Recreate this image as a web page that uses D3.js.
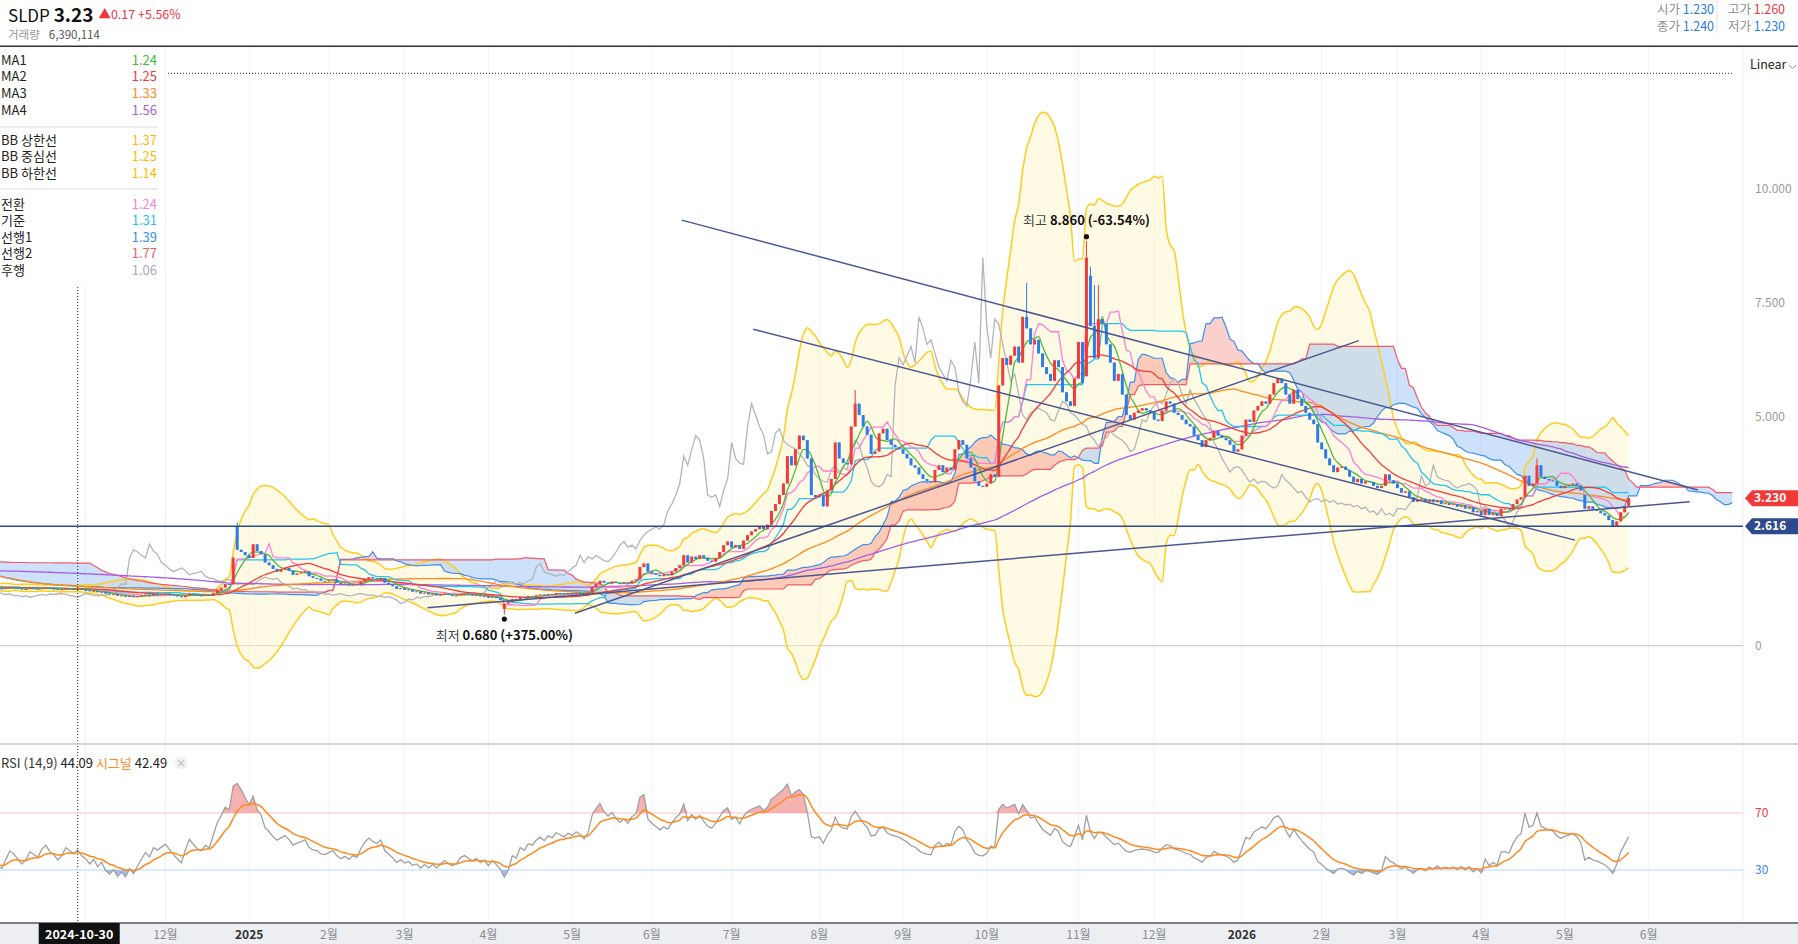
<!DOCTYPE html>
<html>
<head>
<meta charset="utf-8">
<script src="https://cdn.jsdelivr.net/npm/d3@7"></script>
<style>
  body { margin: 0; background: #fff; overflow: hidden; }
  svg { display: block; font-family: "Noto Sans CJK KR", "Noto Sans", sans-serif; }
</style>
</head>
<body>
<svg id="chart" width="1798" height="944"></svg>
<script>
// ---- 데이터 ----
const ticker = "SLDP";
const lastPrice = "3.23";
const priceChange = "▲0.17 +5.56%";
const volumeText = "6,390,114";
const hoverDate = "2024-10-30";
const hoverIndex = 21;
const hoverOHLC = [["시가", "1.230", "#2a7de1"], ["고가", "1.260", "#f0353f"], ["종가", "1.240", "#2a7de1"], ["저가", "1.230", "#2a7de1"]];

// 화면 왼쪽 이전 구간 (지표 계산용)
const warmupClose = [
  1.50, 1.52, 1.55, 1.53, 1.50, 1.48, 1.52, 1.56, 1.60, 1.58,
  1.60, 1.63, 1.61, 1.58, 1.62, 1.66, 1.64, 1.68, 1.70, 1.67,
  1.65, 1.68, 1.70, 1.67, 1.64, 1.62, 1.66, 1.69, 1.72, 1.68,
  1.65, 1.62, 1.60, 1.64, 1.66, 1.63, 1.61, 1.58, 1.62, 1.65,
  1.68, 1.72, 1.76, 1.74, 1.78, 1.82, 1.80, 1.85, 1.88, 1.92,
  1.95, 2.00, 2.04, 2.02, 2.08, 2.12, 2.18, 2.15, 2.20, 2.25,
  2.22, 2.27, 2.30, 2.26, 2.20, 2.32, 2.35, 2.25, 2.15, 2.05,
  1.98, 1.92, 1.88, 1.84, 1.78, 1.74, 1.70, 1.66, 1.62, 1.60,
  1.56, 1.53, 1.50, 1.48, 1.46, 1.45, 1.43, 1.42, 1.40, 1.38,
  1.37, 1.35, 1.34, 1.33, 1.32, 1.34, 1.33, 1.31, 1.30, 1.29,
  1.30, 1.31, 1.29, 1.28, 1.30, 1.32, 1.30, 1.29, 1.28, 1.27,
  1.28, 1.30, 1.29, 1.27, 1.26, 1.28, 1.27, 1.26, 1.28, 1.27
];

// 종가: 2024-10 ~ 2024-12
const close2024 = [
  1.27, 1.25, 1.24, 1.26, 1.28, 1.27, 1.25, 1.23, 1.24, 1.26, 1.25, 1.24, 1.26, 1.27, 1.25, 1.24, 1.22, 1.23, 1.25, 1.24, 1.23, 1.24,
  1.22, 1.21, 1.19, 1.20, 1.17, 1.18, 1.14, 1.12, 1.13, 1.09, 1.10, 1.07, 1.09, 1.06, 1.08, 1.10, 1.12, 1.10, 1.13, 1.12, 1.13,
  1.14, 1.12, 1.10, 1.08, 1.06, 1.10, 1.14, 1.12, 1.10, 1.09, 1.11, 1.10, 1.15, 1.22, 1.27, 1.35, 1.34,
  1.92, 2.10, 2.05, 1.98
];
// 2025-01 ~ 2025-06
const close2025a = [
  1.92, 2.22, 2.07, 2.00, 1.82, 1.76, 1.68, 1.62, 1.66, 1.70, 1.64, 1.55, 1.58, 1.60, 1.63, 1.52, 1.48, 1.47, 1.42, 1.41, 1.43, 1.45,
  1.38, 1.34, 1.36, 1.32, 1.35, 1.33, 1.40, 1.46, 1.50, 1.47, 1.45, 1.48, 1.38, 1.34, 1.30, 1.24, 1.26, 1.22, 1.23, 1.18, 1.19,
  1.14, 1.16, 1.12, 1.14, 1.10, 1.12, 1.14, 1.11, 1.09, 1.10, 1.13, 1.14, 1.12, 1.10, 1.11, 1.08, 1.09, 1.05, 1.07, 1.04, 1.00, 0.92,
  0.95, 1.02, 1.00, 1.06, 1.04, 1.08, 1.07, 1.10, 1.12, 1.10, 1.13, 1.12, 1.15, 1.14, 1.13, 1.15, 1.14, 1.16, 1.15, 1.13, 1.16,
  1.28, 1.35, 1.42, 1.38, 1.36, 1.40, 1.37, 1.35, 1.38, 1.36, 1.42, 1.45,
  1.72, 1.80, 1.62, 1.58, 1.55, 1.52, 1.56, 1.54, 1.62, 1.70, 1.76, 1.98, 1.82, 1.95, 1.90, 1.98, 1.92, 1.86, 1.84, 1.92, 2.05, 2.20, 2.28, 2.15
];
// 2025-07 ~ 2025-12
const close2025b = [
  2.20, 2.12, 2.30, 2.42, 2.50, 2.55, 2.60, 2.55, 2.65, 2.95, 3.10, 3.30,
  3.55, 4.15, 3.95, 4.30, 4.60, 4.50, 4.10, 3.30, 3.25, 3.30, 3.05, 3.40, 3.65, 4.45, 4.10, 4.00, 3.97, 4.80, 5.30, 5.05, 4.80, 4.62, 4.20, 4.25, 4.65, 4.75, 4.50, 4.40,
  4.35, 4.30, 4.20, 4.10, 3.95, 3.90, 3.75, 3.65, 3.60, 3.58, 3.85, 3.95, 3.80, 3.90, 3.85, 4.30, 4.50, 4.40, 4.10, 3.90, 3.60, 3.50, 3.48, 3.55, 3.75, 3.70,
  5.70, 6.30, 6.15, 6.35, 6.55, 6.20, 7.20, 6.95, 6.60, 6.70, 6.40, 6.10, 5.95, 5.80, 6.25, 6.10, 5.55, 5.35, 5.25, 5.85, 6.65, 5.75,
  8.50, 7.00, 6.30, 7.15, 7.05, 6.60, 6.20, 5.80, 5.95, 5.50, 5.05, 4.95, 5.10, 5.15, 5.20, 5.15, 5.10, 4.95, 4.92, 5.15, 5.35, 5.30,
  5.10, 5.05, 4.95, 4.85, 4.80, 4.60, 4.50, 4.35, 4.50, 4.55, 4.70, 4.60, 4.55, 4.50, 4.40, 4.25, 4.30
];
// 2026-01 ~ 2026-05
const close2026 = [
  4.60, 4.95, 4.90, 5.15, 5.25, 5.35, 5.30, 5.50, 5.75, 5.85, 5.75, 5.50, 5.30, 5.60, 5.40, 5.25, 5.10, 4.95, 4.85, 4.45,
  4.30, 4.10, 3.95, 3.80, 3.90, 3.92, 3.85,
  3.70, 3.58, 3.65, 3.55, 3.60, 3.58, 3.50, 3.45, 3.50, 3.75, 3.62, 3.55, 3.45, 3.35, 3.38, 3.25, 3.15, 3.20, 3.22, 3.15, 3.20,
  3.14, 3.18, 3.10, 3.12, 3.08, 3.10, 3.04, 3.07, 3.00, 3.03, 2.92, 2.95, 2.86, 3.00, 2.86, 2.90, 2.84, 3.00, 3.00, 2.98, 3.10, 3.20,
  3.25, 3.72, 3.50, 3.55, 3.95, 3.70, 3.65, 3.62, 3.60, 3.50, 3.45, 3.50, 3.52, 3.55, 3.50, 3.40, 3.00, 3.05, 2.98, 2.95, 2.90, 2.85,
  2.75, 2.60, 2.72, 2.92, 3.06, 3.23
];

// 눈에 띄는 시가 / 꼬리 (표시 구간 인덱스)
const openOverride = { 21: 1.23, 61: 2.62, 128: 0.80, 252: 3.70, 274: 5.90, 275: 8.10, 399: 3.30 };
const highOverride = { 21: 1.26, 60: 1.95, 61: 2.70, 216: 5.60, 259: 7.95, 274: 8.86, 275: 8.30, 276: 7.90, 277: 7.90, 387: 4.10 };
const lowOverride = { 21: 1.23, 128: 0.68 };

// 휴장일 + 데이터 없는 날
const closedDays = ["2024-11-28", "2024-12-25", "2025-01-01", "2025-01-09", "2025-01-20", "2025-02-17", "2025-04-18",
  "2025-05-26", "2025-05-30", "2025-06-19", "2025-07-04", "2025-09-01", "2025-11-27", "2025-12-25", "2026-01-01",
  "2026-01-19", "2026-02-16", "2026-03-27", "2026-04-03"];

// 추세선 (거래일 인덱스, 가격)
const trendLines = [
  [172.5, 9.32, 427.4, 3.41],
  [190.4, 6.93, 396.5, 2.31],
  [145.7, 0.71, 342.3, 6.68],
  [108.7, 0.83, 425.3, 3.15]
];
const levelLine = 2.616;

const priceTicks = [0, 2.5, 5, 7.5, 10];
const rsiLevels = [70, 30];

const maLegend = [["MA1", "1.24", "#4cba3c"], ["MA2", "1.25", "#f23c3c"], ["MA3", "1.33", "#ff8a1e"], ["MA4", "1.56", "#a45ee5"]];
const bbLegend = [["BB 상한선", "1.37"], ["BB 중심선", "1.25"], ["BB 하한선", "1.14"]];
const ichiLegend = [["전환", "1.24", "#ff7fd8"], ["기준", "1.31", "#22c6ee"], ["선행1", "1.39", "#3d8ff0"], ["선행2", "1.77", "#f25a6b"], ["후행", "1.06", "#a9abb3"]];
const rsiLegend = { rsi: "44.09", signal: "42.49" };

// ---- 설정 ----
const W = 1798, H = 944;
const plotRight = 1743;
const priceTop = 47, priceBottom = 744, rsiBottom = 923;
const SHIFT = 26;
const BB_K = 4.6; // 밴드 폭 (참조 차트에 맞춤)
const red = "#f23b3b", blue = "#2b7de9";

const closes = close2024.concat(close2025a, close2025b, close2026);
const N = closes.length;
const W0 = warmupClose.length;
const gClose = warmupClose.concat(closes);
const gOpen = gClose.map((c, g) => {
  const i = g - W0;
  if (openOverride[i] !== undefined) return openOverride[i];
  return g === 0 ? c : gClose[g - 1];
});
const gHigh = gClose.map((c, g) => {
  const i = g - W0;
  const h = Math.max(c, gOpen[g]);
  return highOverride[i] !== undefined ? Math.max(h, highOverride[i]) : h;
});
const gLow = gClose.map((c, g) => {
  const i = g - W0;
  const l = Math.min(c, gOpen[g]);
  return lowOverride[i] !== undefined ? Math.min(l, lowOverride[i]) : l;
});

// 거래일 생성
const closedSet = new Set(closedDays);
const dates = [];
{
  const d = new Date(Date.UTC(2024, 9, 1));
  while (dates.length < N + SHIFT) {
    const wd = d.getUTCDay();
    if (wd !== 0 && wd !== 6 && !closedSet.has(d.toISOString().slice(0, 10))) dates.push(new Date(d));
    d.setUTCDate(d.getUTCDate() + 1);
  }
}

// ---- 지표 ----
function sma(g, n) {
  if (g - n + 1 < 0) return null;
  let s = 0;
  for (let k = g - n + 1; k <= g; k++) s += gClose[k];
  return s / n;
}
function midHL(g, n) {
  if (g - n + 1 < 0) return null;
  let hh = -Infinity, ll = Infinity;
  for (let k = g - n + 1; k <= g; k++) { hh = Math.max(hh, gHigh[k]); ll = Math.min(ll, gLow[k]); }
  return (hh + ll) / 2;
}

const vis = d3.range(N);
const maSeries = [5, 20, 60, 120].map(n => vis.map(i => ({ i, v: sma(i + W0, n) })));
const bb = vis.map(i => {
  const g = i + W0, m = sma(g, 20);
  let s = 0;
  for (let k = g - 19; k <= g; k++) s += (gClose[k] - m) ** 2;
  const sd = Math.sqrt(s / 20);
  return { i, up: m + BB_K * sd, lo: m - BB_K * sd };
});
const tenkan = vis.map(i => ({ i, v: midHL(i + W0, 9) }));
const kijun = vis.map(i => ({ i, v: midHL(i + W0, 26) }));
const cloud = d3.range(N + SHIFT).map(t => {
  const g = t - SHIFT + W0;
  return { i: t, a: (midHL(g, 9) + midHL(g, 26)) / 2, b: midHL(g, 52) };
});
const chikou = d3.range(N - SHIFT).map(t => ({ i: t, v: closes[t + SHIFT] }));

// RSI (14) + 시그널 (9)
const rsiG = new Array(gClose.length).fill(null);
{
  let ag = 0, al = 0;
  for (let g = 1; g < gClose.length; g++) {
    const ch = gClose[g] - gClose[g - 1];
    const gain = Math.max(ch, 0), loss = Math.max(-ch, 0);
    if (g <= 14) {
      ag += gain / 14; al += loss / 14;
      if (g === 14) rsiG[g] = al === 0 ? 100 : 100 - 100 / (1 + ag / al);
    } else {
      ag = (ag * 13 + gain) / 14; al = (al * 13 + loss) / 14;
      rsiG[g] = al === 0 ? 100 : 100 - 100 / (1 + ag / al);
    }
  }
}
const sigG = new Array(gClose.length).fill(null);
{
  let e = null;
  for (let g = 14; g < gClose.length; g++) {
    e = e === null ? rsiG[g] : e + (2 / 10) * (rsiG[g] - e);
    sigG[g] = e;
  }
}
const rsi = vis.map(i => ({ i, v: rsiG[i + W0] }));
const signal = vis.map(i => ({ i, v: sigG[i + W0] }));

// ---- 스케일 ----
const x = d3.scaleLinear().domain([1.505, 1.505 + plotRight / 3.987]).range([0, plotRight]);
const yP = d3.scaleLinear().domain([0, 10]).range([645.6, 189.1]);
const yR = d3.scaleLinear().domain([0, 100]).range([912.7, 770.3]);

const svg = d3.select("#chart");
const defs = svg.append("defs");
defs.append("clipPath").attr("id", "clipPrice").append("rect")
  .attr("x", 0).attr("y", priceTop).attr("width", plotRight).attr("height", priceBottom - priceTop);
defs.append("clipPath").attr("id", "clipRsi").append("rect")
  .attr("x", 0).attr("y", priceBottom).attr("width", plotRight).attr("height", rsiBottom - priceBottom);

// 월 눈금
const monthTicks = [];
for (let i = 1; i < dates.length; i++) {
  if (dates[i].getUTCMonth() !== dates[i - 1].getUTCMonth() && x(i) < 1700) monthTicks.push(i);
}

svg.append("g").selectAll("line").data(monthTicks).enter().append("line")
  .attr("x1", d => x(d)).attr("x2", d => x(d))
  .attr("y1", priceTop).attr("y2", rsiBottom)
  .attr("stroke", "#f1f2f4").attr("stroke-width", 1);

svg.append("line").attr("x1", plotRight).attr("x2", plotRight).attr("y1", priceTop).attr("y2", rsiBottom)
  .attr("stroke", "#eceef0");

svg.append("line").attr("x1", 0).attr("x2", plotRight).attr("y1", yP(0)).attr("y2", yP(0))
  .attr("stroke", "#cfcfcf").attr("stroke-width", 1.2);

// ---- 가격 패널 ----
const price = svg.append("g").attr("clip-path", "url(#clipPrice)");

price.append("path").datum(bb)
  .attr("d", d3.area().x(d => x(d.i)).y0(d => yP(d.lo)).y1(d => yP(d.up)).curve(d3.curveMonotoneX))
  .attr("fill", "#fff3c4").attr("fill-opacity", 0.45);

// 구름대
price.append("path").datum(cloud)
  .attr("d", d3.area().x(d => x(d.i)).y0(d => yP(d.b)).y1(d => yP(Math.max(d.a, d.b))))
  .attr("fill", "#f26b5e").attr("fill-opacity", 0.32);
price.append("path").datum(cloud)
  .attr("d", d3.area().x(d => x(d.i)).y0(d => yP(d.a)).y1(d => yP(Math.max(d.a, d.b))))
  .attr("fill", "#5d9df0").attr("fill-opacity", 0.3);

const line = d3.line().defined(d => d.v !== null).x(d => x(d.i)).y(d => yP(d.v));

price.append("path").datum(bb.map(d => ({ i: d.i, v: d.up })))
  .attr("d", line.curve(d3.curveMonotoneX)).attr("fill", "none").attr("stroke", "#ffcc1f").attr("stroke-width", 1.5);
price.append("path").datum(bb.map(d => ({ i: d.i, v: d.lo })))
  .attr("d", line).attr("fill", "none").attr("stroke", "#ffcc1f").attr("stroke-width", 1.5);
line.curve(d3.curveLinear);

price.append("path").datum(cloud.map(d => ({ i: d.i, v: d.a })))
  .attr("d", line).attr("fill", "none").attr("stroke", "#3d8ff0").attr("stroke-width", 1.2);
price.append("path").datum(cloud.map(d => ({ i: d.i, v: d.b })))
  .attr("d", line).attr("fill", "none").attr("stroke", "#f25a6b").attr("stroke-width", 1.2);

price.append("path").datum(chikou)
  .attr("d", line).attr("fill", "none").attr("stroke", "#b3b5bc").attr("stroke-width", 1.3);

const maColors = ["#4cba3c", "#f23c3c", "#ff8a1e", "#a45ee5"];
[3, 2].forEach(k => {
  price.append("path").datum(maSeries[k]).attr("d", line.curve(d3.curveMonotoneX))
    .attr("fill", "none").attr("stroke", maColors[k]).attr("stroke-width", 1.3);
});
line.curve(d3.curveLinear);
price.append("path").datum(kijun).attr("d", line).attr("fill", "none").attr("stroke", "#22c6ee").attr("stroke-width", 1.3);
price.append("path").datum(tenkan).attr("d", line).attr("fill", "none").attr("stroke", "#ff7fd8").attr("stroke-width", 1.3);
[1, 0].forEach(k => {
  price.append("path").datum(maSeries[k]).attr("d", line.curve(d3.curveMonotoneX))
    .attr("fill", "none").attr("stroke", maColors[k]).attr("stroke-width", 1.3);
});
line.curve(d3.curveLinear);

// 캔들
const candles = vis.map(i => {
  const g = i + W0;
  return { i, o: gOpen[g], h: gHigh[g], l: gLow[g], c: gClose[g] };
});
const cg = price.append("g").selectAll("g").data(candles).enter().append("g");
cg.append("line")
  .attr("x1", d => x(d.i)).attr("x2", d => x(d.i))
  .attr("y1", d => yP(d.h)).attr("y2", d => yP(d.l))
  .attr("stroke", d => d.c >= d.o ? red : blue).attr("stroke-width", 1);
cg.append("rect")
  .attr("x", d => x(d.i) - 1.5).attr("width", 3)
  .attr("y", d => yP(Math.max(d.o, d.c)))
  .attr("height", d => Math.max(1, yP(Math.min(d.o, d.c)) - yP(Math.max(d.o, d.c))))
  .attr("fill", d => d.c >= d.o ? red : blue);

// 추세선
price.append("g").selectAll("line").data(trendLines).enter().append("line")
  .attr("x1", d => x(d[0])).attr("y1", d => yP(d[1]))
  .attr("x2", d => x(d[2])).attr("y2", d => yP(d[3]))
  .attr("stroke", "#4b5792").attr("stroke-width", 1.5);
svg.append("line").attr("x1", 0).attr("x2", plotRight).attr("y1", yP(levelLine)).attr("y2", yP(levelLine))
  .attr("stroke", "#2f4a8c").attr("stroke-width", 1.5);

// 최고 / 최저
const lastClose = closes[N - 1];
const hiIdx = d3.maxIndex(candles, d => d.h), loIdx = d3.minIndex(candles, d => d.l);
const pct = v => { const p = (lastClose - v) / v * 100; return (p >= 0 ? "+" : "") + p.toFixed(2) + "%"; };
[[hiIdx, candles[hiIdx].h, "최고", -1], [loIdx, candles[loIdx].l, "최저", 1]].forEach(([i, v, lab, dir]) => {
  const cx = x(i), cy = yP(v) + dir * 4.5;
  svg.append("circle").attr("cx", cx).attr("cy", cy).attr("r", 2.6).attr("fill", "#111");
  const t = svg.append("text").attr("x", cx).attr("y", cy + dir * 16 + 4.5)
    .attr("text-anchor", "middle").attr("font-size", 13);
  t.append("tspan").attr("fill", "#444").text(lab + "  ");
  t.append("tspan").attr("fill", "#111").attr("font-weight", "bold").text(v.toFixed(3) + " (" + pct(v) + ")");
});

// ---- 범례 ----
svg.append("rect").attr("x", 0).attr("y", priceTop + 1).attr("width", 164).attr("height", 238).attr("fill", "#fff");
const legRows = [];
maLegend.forEach((d, k) => legRows.push({ y: 60 + k * 16.7, name: d[0], value: d[1], color: d[2] }));
bbLegend.forEach((d, k) => legRows.push({ y: 140 + k * 16.6, name: d[0], value: d[1], color: "#ffbb00" }));
ichiLegend.forEach((d, k) => legRows.push({ y: 204 + k * 16.5, name: d[0], value: d[1], color: d[2] }));
const lg = svg.append("g").attr("font-size", 13);
lg.selectAll("text.n").data(legRows).enter().append("text")
  .attr("x", 1).attr("y", d => d.y + 4.5).attr("fill", "#222").text(d => d.name);
lg.selectAll("text.v").data(legRows).enter().append("text")
  .attr("x", 157).attr("y", d => d.y + 4.5).attr("text-anchor", "end").attr("fill", d => d.color).text(d => d.value);
[127, 189].forEach(yy => {
  svg.append("line").attr("x1", 0).attr("x2", 158).attr("y1", yy).attr("y2", yy).attr("stroke", "#dddddd").attr("stroke-width", 1.2);
});

// 십자선
svg.append("line").attr("x1", 168).attr("x2", 1733).attr("y1", 73.3).attr("y2", 73.3)
  .attr("stroke", "#222").attr("stroke-dasharray", "1,2");
svg.append("line").attr("x1", x(hoverIndex)).attr("x2", x(hoverIndex)).attr("y1", 287).attr("y2", rsiBottom)
  .attr("stroke", "#222").attr("stroke-dasharray", "1,2");

// ---- 가격 축 (태그에 가려지는 눈금은 생략) ----
const tagValues = [levelLine, lastClose];
svg.append("g").selectAll("text")
  .data(priceTicks.filter(t => tagValues.every(v => Math.abs(yP(t) - yP(v)) > 14))).enter().append("text")
  .attr("x", 1755).attr("y", d => yP(d) + 4).attr("font-size", 12).attr("fill", "#9a9a9a")
  .text(d => d === 0 ? "0" : d.toFixed(3));
function tag(v, color, label) {
  const cy = yP(v);
  svg.append("path").attr("d", `M1745,${cy} L1752,${cy - 8} L${W},${cy - 8} L${W},${cy + 8} L1752,${cy + 8} Z`).attr("fill", color);
  svg.append("text").attr("x", 1754).attr("y", cy + 4.3).attr("font-size", 12).attr("font-weight", "bold")
    .attr("fill", "#fff").text(label);
}
tag(levelLine, "#2f4a8c", levelLine.toFixed(3));
tag(lastClose, "#f03a3a", lastClose.toFixed(3));
svg.append("text").attr("x", 1750).attr("y", 68.5).attr("font-size", 12.5).attr("fill", "#222").text("Linear");
svg.append("path").attr("d", "M1789,65 L1792.5,68.5 L1796,65").attr("fill", "none").attr("stroke", "#999").attr("stroke-width", 1);

// ---- RSI 패널 ----
svg.append("line").attr("x1", 0).attr("x2", W).attr("y1", priceBottom).attr("y2", priceBottom)
  .attr("stroke", "#c4c6ca").attr("stroke-width", 1.5);
svg.append("line").attr("x1", 0).attr("x2", plotRight).attr("y1", yR(70)).attr("y2", yR(70))
  .attr("stroke", "#ffd6d6").attr("stroke-width", 1.5);
svg.append("line").attr("x1", 0).attr("x2", plotRight).attr("y1", yR(30)).attr("y2", yR(30))
  .attr("stroke", "#cfe5ff").attr("stroke-width", 1.5);

const rp = svg.append("g").attr("clip-path", "url(#clipRsi)");
rp.append("path").datum(rsi)
  .attr("d", d3.area().x(d => x(d.i)).y0(yR(70)).y1(d => yR(Math.max(70, d.v))))
  .attr("fill", "#f4a3a3").attr("fill-opacity", 0.85);
rp.append("path").datum(rsi)
  .attr("d", d3.area().x(d => x(d.i)).y0(yR(30)).y1(d => yR(Math.min(30, d.v))))
  .attr("fill", "#8db6ef").attr("fill-opacity", 0.85);
const rline = d3.line().x(d => x(d.i)).y(d => yR(d.v));
rp.append("path").datum(rsi).attr("d", rline).attr("fill", "none").attr("stroke", "#a0a0a0").attr("stroke-width", 1.3);
rp.append("path").datum(signal).attr("d", rline.curve(d3.curveMonotoneX)).attr("fill", "none")
  .attr("stroke", "#ff8a1e").attr("stroke-width", 1.5);

svg.append("g").selectAll("text").data(rsiLevels).enter().append("text")
  .attr("x", 1755).attr("y", d => yR(d) + 4).attr("font-size", 12)
  .attr("fill", d => d === 70 ? "#f0353f" : "#2f86f0").text(d => d);

const rl = svg.append("text").attr("x", 1).attr("y", 767.5).attr("font-size", 13);
rl.append("tspan").attr("fill", "#333").text("RSI (14,9) ");
rl.append("tspan").attr("fill", "#222").text(rsiLegend.rsi + " ");
rl.append("tspan").attr("fill", "#ff8a1e").text("시그널 ");
rl.append("tspan").attr("fill", "#222").text(rsiLegend.signal);
svg.append("circle").attr("cx", 181).attr("cy", 763).attr("r", 6.5).attr("fill", "#f0f0f0");
svg.append("text").attr("x", 181).attr("y", 766.5).attr("text-anchor", "middle").attr("font-size", 10).attr("fill", "#aaa").text("×");

// ---- 시간 축 ----
const tagLeft = x(hoverIndex) - 39, tagRight = x(hoverIndex) + 42;
svg.append("rect").attr("x", 0).attr("y", rsiBottom).attr("width", W).attr("height", H - rsiBottom).attr("fill", "#eceef2");
svg.append("line").attr("x1", 0).attr("x2", W).attr("y1", rsiBottom).attr("y2", rsiBottom)
  .attr("stroke", "#7d7f84").attr("stroke-width", 2);
svg.append("g").selectAll("text")
  .data(monthTicks.filter(i => x(i) > 12 && (x(i) < tagLeft - 12 || x(i) > tagRight + 12))).enter().append("text")
  .attr("x", d => x(d)).attr("y", 938.5).attr("text-anchor", "middle").attr("font-size", 12)
  .attr("font-weight", d => dates[d].getUTCMonth() === 0 ? "bold" : "normal")
  .attr("fill", d => dates[d].getUTCMonth() === 0 ? "#333" : "#8a8c90")
  .text(d => dates[d].getUTCMonth() === 0 ? String(dates[d].getUTCFullYear()) : (dates[d].getUTCMonth() + 1) + "월");
svg.append("rect").attr("x", tagLeft).attr("y", rsiBottom).attr("width", tagRight - tagLeft).attr("height", H - rsiBottom).attr("fill", "#111");
svg.append("text").attr("x", x(hoverIndex) + 1.5).attr("y", 938.5).attr("text-anchor", "middle")
  .attr("font-size", 12.5).attr("font-weight", "bold").attr("fill", "#fff").text(hoverDate);

// ---- 머리글 ----
svg.append("line").attr("x1", 0).attr("x2", W).attr("y1", 46.3).attr("y2", 46.3).attr("stroke", "#333").attr("stroke-width", 1.4);
const head = svg.append("text").attr("x", 8).attr("y", 22);
head.append("tspan").attr("font-size", 17).attr("fill", "#111").text(ticker + " ");
head.append("tspan").attr("font-size", 19).attr("font-weight", "bold").attr("fill", "#111").text(lastPrice);
head.append("tspan").attr("font-size", 12.5).attr("fill", "#f0353f").attr("dx", 5).attr("dy", -3).text(priceChange);
const vol = svg.append("text").attr("x", 8).attr("y", 39).attr("font-size", 11.5);
vol.append("tspan").attr("fill", "#999").text("거래량");
vol.append("tspan").attr("fill", "#555").attr("dx", 9).text(volumeText);

svg.append("line").attr("x1", 1717).attr("x2", 1717).attr("y1", 0).attr("y2", 33).attr("stroke", "#e2e2e2");
hoverOHLC.forEach((d, k) => {
  const t = svg.append("text").attr("x", k % 2 === 0 ? 1657 : 1728).attr("y", k < 2 ? 14 : 31).attr("font-size", 12.5);
  t.append("tspan").attr("fill", "#8c8c8c").text(d[0] + " ");
  t.append("tspan").attr("fill", d[2]).text(d[1]);
});
</script>
</body>
</html>
